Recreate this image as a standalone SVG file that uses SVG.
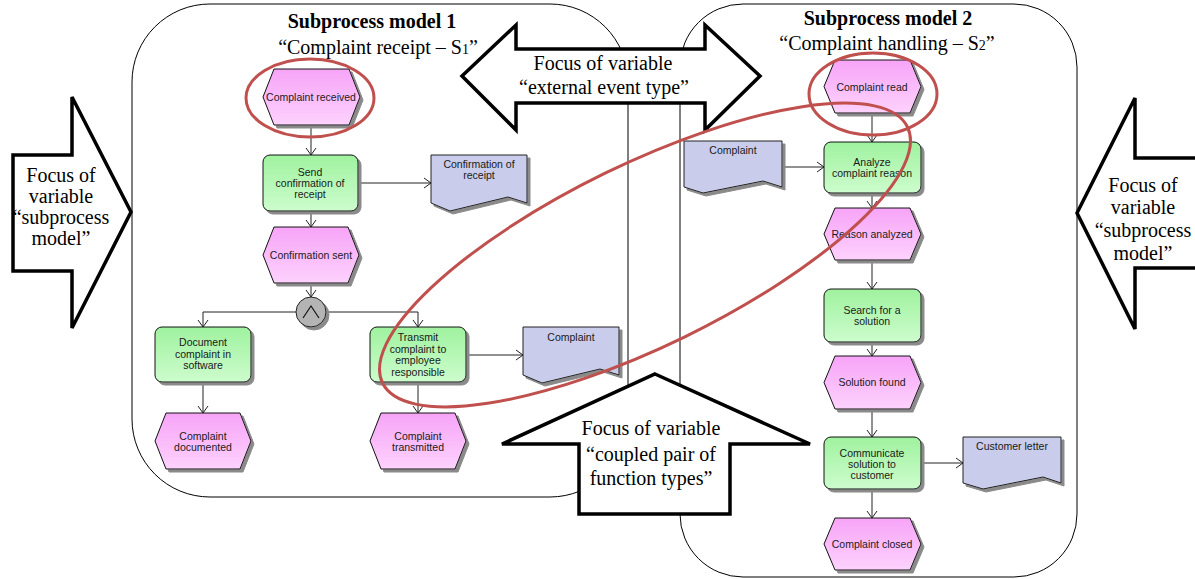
<svg xmlns="http://www.w3.org/2000/svg" width="1195" height="579" viewBox="0 0 1195 579">
<defs>
<linearGradient id="gEv" x1="0" y1="0" x2="0" y2="1"><stop offset="0" stop-color="#f7a4f7"/><stop offset="1" stop-color="#fdd2fd"/></linearGradient>
<linearGradient id="gFn" x1="0" y1="0" x2="0" y2="1"><stop offset="0" stop-color="#9ff29f"/><stop offset="1" stop-color="#cdfccd"/></linearGradient>
<filter id="sh" x="-10%" y="-10%" width="130%" height="130%"><feDropShadow dx="3" dy="3" stdDeviation="0.6" flood-color="#8a8a8a" flood-opacity="1"/></filter>
<marker id="ah" markerUnits="userSpaceOnUse" markerWidth="12" markerHeight="12" viewBox="-8 -6 10 12" refX="0" refY="0" orient="auto"><path d="M-7,-5 L0,0 L-7,5" fill="none" stroke="#222" stroke-width="1"/></marker>
<style>
.frame{fill:none;stroke:#000;stroke-width:1}
.big{fill:#fff;stroke:#000;stroke-width:3.5;stroke-linejoin:miter}
.ev{fill:url(#gEv);stroke:#111;stroke-width:1;filter:url(#sh)}
.fn{fill:url(#gFn);stroke:#111;stroke-width:1;filter:url(#sh)}
.doc{fill:#c9cceb;stroke:#222;stroke-width:1;filter:url(#sh)}
.c{fill:none;stroke:#222;stroke-width:1}
.ca{fill:none;stroke:#222;stroke-width:1;marker-end:url(#ah)}
.t{font-family:"Liberation Sans",Arial,sans-serif;font-size:10.5px;fill:#1a1a1a;text-anchor:middle}
.s{font-family:"Liberation Serif","Times New Roman",serif;font-size:20px;fill:#000;text-anchor:middle}
.h{font-family:"Liberation Serif","Times New Roman",serif;font-size:20px;font-weight:bold;fill:#000;text-anchor:middle}
.red{fill:none;stroke:#c0504d;stroke-width:3}
</style>
</defs>
<g id="frames">
<rect class="frame" x="132" y="4" width="496" height="493" rx="78" ry="78"/>
<rect class="frame" x="680" y="4" width="397" height="573" rx="63" ry="63"/>
</g>
<g id="titles">
<text class="h" x="372" y="28">Subprocess model 1</text>
<text class="s" x="378" y="54" font-size="19">“Complaint receipt – S<tspan font-size="14">1</tspan>”</text>
<text class="h" x="888" y="25">Subprocess model 2</text>
<text class="s" x="887" y="50" font-size="19">“Complaint handling – S<tspan font-size="14">2</tspan>”</text>
</g>
<g id="focus-left">
<polygon class="big" points="13,155 72,155 72,97 131,212 72,328 72,271 13,271"/>
<text class="s" x="61" y="182">Focus of</text>
<text class="s" x="61" y="203">variable</text>
<text class="s" x="61" y="224">“subprocess</text>
<text class="s" x="61" y="245">model”</text>
</g>
<g id="focus-right">
<polygon class="big" points="1077,213 1135,98 1135,158 1205,158 1205,268 1135,268 1135,329"/>
<text class="s" x="1143" y="192">Focus of</text>
<text class="s" x="1143" y="214">variable</text>
<text class="s" x="1143" y="237">“subprocess</text>
<text class="s" x="1143" y="260">model”</text>
</g>
<g id="focus-top">
<polygon class="big" points="462,76 516,25 516,49 705,49 705,25 760,76 705,130 705,103 516,103 516,130"/>
<text class="s" x="603" y="70">Focus of variable</text>
<text class="s" x="604" y="94">“external event type”</text>
</g>
<g id="focus-bottom">
<polygon class="big" points="655,374 810,444 730,444 730,514 579,514 579,444 502,444"/>
<text class="s" x="651" y="435">Focus of variable</text>
<text class="s" x="651" y="461">“coupled pair of</text>
<text class="s" x="651" y="485">function types”</text>
</g>
<g id="connectors">
<line class="ca" x1="311" y1="125" x2="311" y2="155"/>
<line class="ca" x1="311" y1="211" x2="311" y2="227"/>
<line class="ca" x1="358" y1="183" x2="431" y2="183"/>
<line class="ca" x1="311" y1="283" x2="311" y2="297"/>
<path class="ca" d="M296,312 H203 V327"/>
<path class="ca" d="M326,312 H418 V327"/>
<line class="ca" x1="203" y1="382" x2="203" y2="413"/>
<line class="ca" x1="418" y1="382" x2="418" y2="413"/>
<line class="ca" x1="466" y1="355" x2="523" y2="355"/>
<line class="ca" x1="872" y1="113" x2="872" y2="142"/>
<line class="ca" x1="782" y1="167" x2="824" y2="167"/>
<line class="ca" x1="872" y1="193" x2="872" y2="208"/>
<line class="ca" x1="872" y1="260" x2="872" y2="289"/>
<line class="ca" x1="872" y1="342" x2="872" y2="356"/>
<line class="ca" x1="872" y1="409" x2="872" y2="437"/>
<line class="ca" x1="921" y1="463" x2="963" y2="463"/>
<line class="ca" x1="872" y1="489" x2="872" y2="518"/>
</g>
<g id="ev-complaint-received">
<polygon class="ev" points="263,97 274,69 349,69 360,97 349,125 274,125"/>
<text class="t" x="311" y="100.7">Complaint received</text>
</g>
<g id="fn-send-confirmation">
<rect class="fn" x="263" y="155" width="95" height="56" rx="7"/>
<text class="t" x="310" y="175.7">Send</text>
<text class="t" x="310" y="187">confirmation of</text>
<text class="t" x="310" y="198.3">receipt</text>
</g>
<g id="doc-confirmation">
<polygon class="doc" points="431,155 527,155 527,203 508,197 450,211 431,203"/>
<text class="t" x="479" y="167.7">Confirmation of</text>
<text class="t" x="479" y="179">receipt</text>
</g>
<g id="ev-confirmation-sent">
<polygon class="ev" points="263,255 274,227 348,227 359,255 348,283 274,283"/>
<text class="t" x="311" y="258.7">Confirmation sent</text>
</g>
<g id="and-connector">
<circle cx="311" cy="312" r="15" fill="#b4b4b4" stroke="#222" stroke-width="1" filter="url(#sh)"/>
<path d="M303,318 L311,306 L319,318" fill="none" stroke="#111" stroke-width="1.2"/>
</g>
<g id="fn-document">
<rect class="fn" x="155" y="327" width="96" height="55" rx="7"/>
<text class="t" x="203" y="346">Document</text>
<text class="t" x="203" y="357.5">complaint in</text>
<text class="t" x="203" y="369">software</text>
</g>
<g id="fn-transmit">
<rect class="fn" x="370" y="327" width="96" height="55" rx="7"/>
<text class="t" x="418" y="341">Transmit</text>
<text class="t" x="418" y="352.5">complaint to</text>
<text class="t" x="418" y="364">employee</text>
<text class="t" x="418" y="375.5">responsible</text>
</g>
<g id="doc-complaint-1">
<polygon class="doc" points="523,327 619,327 619,375 600,369 542,383 523,375"/>
<text class="t" x="571" y="340.7">Complaint</text>
</g>
<g id="ev-complaint-documented">
<polygon class="ev" points="155,441 166,413 240,413 251,441 240,469 166,469"/>
<text class="t" x="203" y="439.5">Complaint</text>
<text class="t" x="203" y="451">documented</text>
</g>
<g id="ev-complaint-transmitted">
<polygon class="ev" points="370,441 381,413 455,413 466,441 455,469 381,469"/>
<text class="t" x="418" y="439.5">Complaint</text>
<text class="t" x="418" y="451">transmitted</text>
</g>
<g id="ev-complaint-read">
<polygon class="ev" points="824,86.5 835,60 910,60 921,86.5 910,113 835,113"/>
<text class="t" x="872" y="90.5">Complaint read</text>
</g>
<g id="doc-complaint-2">
<polygon class="doc" points="684,141 782,141 782,187 763,181 703,193 684,187"/>
<text class="t" x="733" y="153.7">Complaint</text>
</g>
<g id="fn-analyze">
<rect class="fn" x="824" y="142" width="97" height="51" rx="7"/>
<text class="t" x="872" y="165.5">Analyze</text>
<text class="t" x="872" y="177">complaint reason</text>
</g>
<g id="ev-reason-analyzed">
<polygon class="ev" points="824,234 835,208 910,208 921,234 910,260 835,260"/>
<text class="t" x="872" y="238">Reason analyzed</text>
</g>
<g id="fn-search">
<rect class="fn" x="824" y="289" width="97" height="53" rx="7"/>
<text class="t" x="872" y="313.5">Search for a</text>
<text class="t" x="872" y="325">solution</text>
</g>
<g id="ev-solution-found">
<polygon class="ev" points="824,382.5 835,356 910,356 921,382.5 910,409 835,409"/>
<text class="t" x="872" y="386.3">Solution found</text>
</g>
<g id="fn-communicate">
<rect class="fn" x="824" y="437" width="97" height="52" rx="7"/>
<text class="t" x="872" y="456.7">Communicate</text>
<text class="t" x="872" y="467.8">solution to</text>
<text class="t" x="872" y="478.9">customer</text>
</g>
<g id="doc-customer-letter">
<polygon class="doc" points="963,437 1061,437 1061,483 1043,477 983,489 963,483"/>
<text class="t" x="1012" y="449.7">Customer letter</text>
</g>
<g id="ev-complaint-closed">
<polygon class="ev" points="824,544 835,518 910,518 921,544 910,570 835,570"/>
<text class="t" x="872" y="547.7">Complaint closed</text>
</g>
<g id="highlights">
<ellipse class="red" cx="310" cy="98" rx="64" ry="39"/>
<ellipse class="red" cx="873" cy="94" rx="64" ry="41"/>
<ellipse class="red" cx="645" cy="255" rx="292" ry="91" transform="rotate(-26 645 255)"/>
</g>
</svg>
